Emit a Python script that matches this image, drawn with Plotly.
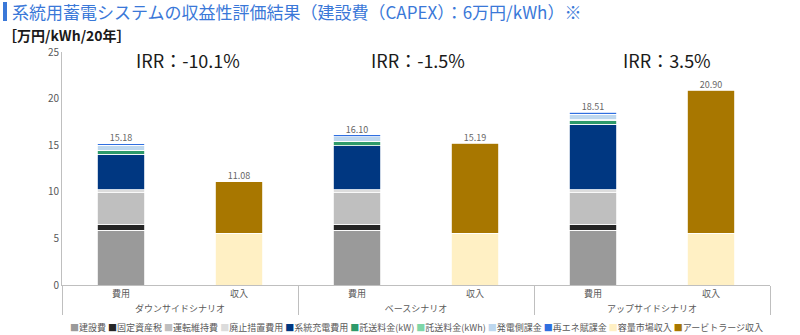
import plotly.graph_objects as go

# ---------------- data ----------------
scenarios = ["ダウンサイドシナリオ", "ベースシナリオ", "アップサイドシナリオ"]
kinds = ["費用", "収入"]

cost_names = ["建設費", "固定資産税", "運転維持費", "廃止措置費用", "系統充電費用",
              "託送料金(kW)", "託送料金(kWh)", "発電側課金", "再エネ賦課金"]
construction = [5.90, 5.90, 5.90]
property_tax = [0.62, 0.62, 0.62]
operation = [3.40, 3.40, 3.40]
decommission = [0.30, 0.30, 0.30]
grid_charging = [3.81, 4.70, 7.01]
wheeling_kw = [0.40, 0.43, 0.43]
wheeling_kwh = [0.05, 0.05, 0.05]
generation_levy = [0.50, 0.50, 0.60]
renewable_levy = [0.20, 0.20, 0.20]

revenue_names = ["容量市場収入", "アービトラージ収入"]
capacity_market = [5.55, 5.55, 5.55]
arbitrage = [5.53, 9.64, 15.35]

irr_labels = ["IRR：-10.1%", "IRR：-1.5%", "IRR：3.5%"]

cost_series = [construction, property_tax, operation, decommission, grid_charging,
               wheeling_kw, wheeling_kwh, generation_levy, renewable_levy]
revenue_series = [capacity_market, arbitrage]

cost_colors = ["#9a9a9a", "#262626", "#bfbfbf", "#dcdcdc", "#003781",
               "#2e9a6a", "#7fd6a8", "#bdd7ee", "#2f6fe0"]
revenue_colors = ["#fff0c4", "#a87700"]
irr_shift = [8, 2, 15]

# ---------------- figure ----------------
x_lvl1 = []
x_lvl2 = []
for s in scenarios:
    for k in kinds:
        x_lvl1.append(s)
        x_lvl2.append(k)

fig = go.Figure()

for name, vals, col in zip(cost_names, cost_series, cost_colors):
    y = []
    for i in range(len(scenarios)):
        y += [vals[i], None]
    fig.add_trace(go.Bar(x=[x_lvl1, x_lvl2], y=y, name=name, marker_color=col,
                         marker_line=dict(color="white", width=0.8), showlegend=False))

for name, vals, col in zip(revenue_names, revenue_series, revenue_colors):
    y = []
    for i in range(len(scenarios)):
        y += [None, vals[i]]
    fig.add_trace(go.Bar(x=[x_lvl1, x_lvl2], y=y, name=name, marker_color=col,
                         marker_line=dict(color="white", width=0.8), showlegend=False))

cost_tot = [sum(v[i] for v in cost_series) for i in range(len(scenarios))]
rev_tot = [sum(v[i] for v in revenue_series) for i in range(len(scenarios))]
tot_y = []
for i in range(len(scenarios)):
    tot_y += [cost_tot[i], rev_tot[i]]
fig.add_trace(go.Scatter(x=[x_lvl1, x_lvl2], y=tot_y, mode="text",
                         text=[f"{v:.2f}" for v in tot_y], textposition="top center",
                         textfont=dict(size=9, color="#666666"), showlegend=False,
                         hoverinfo="skip"))

fig.update_layout(
    width=800, height=335,
    margin=dict(l=62, r=30, t=52, b=50),
    paper_bgcolor="white", plot_bgcolor="white",
    barmode="stack", bargap=0.6,
    font=dict(family="Noto Sans CJK JP", size=9, color="#595959"),
)
fig.update_yaxes(range=[0, 25], dtick=5, showgrid=False, zeroline=False,
                 showline=True, linecolor="#bfbfbf", linewidth=1,
                 ticks="", tickfont=dict(size=10, color="#595959"))
fig.update_xaxes(type="multicategory", showline=True, linecolor="#bfbfbf",
                 linewidth=1, showdividers=True, dividercolor="#bfbfbf",
                 dividerwidth=1, tickfont=dict(size=9, color="#595959"))

# IRR labels
for i, lab in enumerate(irr_labels):
    fig.add_annotation(x=(2 * i + 1) / 6, xref="paper", xanchor="center",
                       xshift=irr_shift[i],
                       y=24.1, yref="y", yanchor="middle",
                       text=lab, showarrow=False,
                       font=dict(size=18, color="#1a1a1a", family="Noto Sans CJK JP"))

# title + unit
fig.add_shape(type="rect", xref="paper", yref="paper",
              x0=-59 / 708, x1=-55 / 708, y0=1.0 + 31 / 233, y1=1.0 + 50 / 233,
              fillcolor="#3a78d8", line_width=0)
fig.add_annotation(x=-52 / 708, xref="paper", xanchor="left",
                   y=1.0 + 41 / 233, yref="paper", yanchor="middle",
                   text="系統用蓄電システムの収益性評価結果（建設費（CAPEX）：6万円/kWh）※",
                   showarrow=False,
                   font=dict(size=17, color="#3a78d8", family="Noto Sans CJK JP"))
fig.add_annotation(x=-61 / 708, xref="paper", xanchor="left",
                   y=1.0 + 17 / 233, yref="paper", yanchor="middle",
                   text="<b>［万円/kWh/20年］</b>", showarrow=False,
                   font=dict(size=14, color="#1a1a1a", family="Noto Sans CJK JP"))

# legend as rich text
all_names = cost_names + revenue_names
all_colors = cost_colors + revenue_colors
parts = [f"<span style='color:{c}'>■</span>{n}" for n, c in zip(all_names, all_colors)]
fig.add_annotation(x=0.5, xref="paper", xanchor="center", y=-42 / 233, yref="paper",
                   yanchor="middle", text=" ".join(parts), showarrow=False,
                   font=dict(size=9, color="#595959", family="Noto Sans CJK JP"))

fig.write_html("out.html")
